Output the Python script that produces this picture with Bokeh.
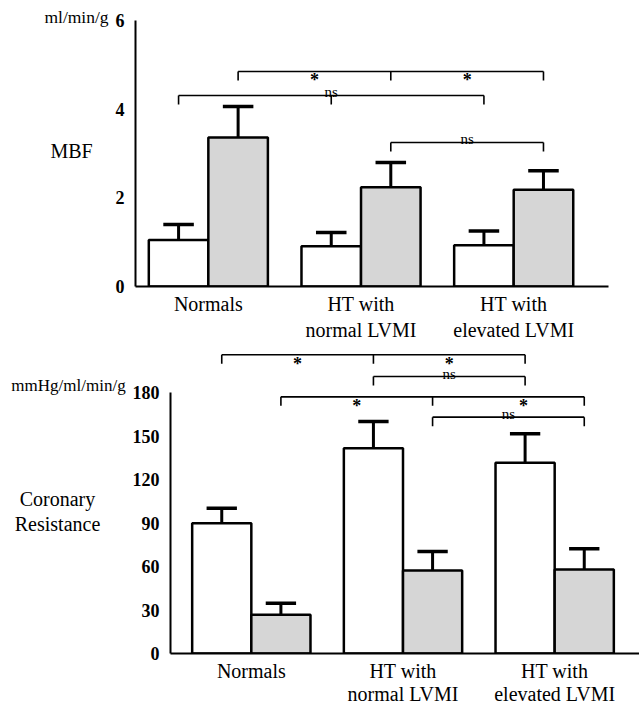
from bokeh.plotting import figure
from bokeh.models import Range1d, FixedTicker
from bokeh.layouts import column, row
from bokeh.embed import file_html
from bokeh.resources import INLINE
from bokeh.core.properties import value

# ---------------- data ----------------
groups = ["Normals", "HT with\nnormal LVMI", "HT with\nelevated LVMI"]

mbf_white = [1.05, 0.91, 0.93]
mbf_white_err = [0.35, 0.31, 0.32]
mbf_gray = [3.36, 2.24, 2.18]
mbf_gray_err = [0.70, 0.56, 0.43]
mbf_ticks = [0, 2, 4, 6]

cr_white = [89.9, 141.6, 131.5]
cr_white_err = [10.3, 18.4, 20.0]
cr_gray = [26.7, 57.2, 57.9]
cr_gray_err = [8.0, 13.1, 14.3]
cr_ticks = [0, 30, 60, 90, 120, 150, 180]

# significance brackets: series, groups joined, height, marks (fractional group pos, text)
mbf_brackets = [
    ("gray", [0, 1, 2], 4.85, [(0.5, "*"), (1.5, "*")]),
    ("white", [0, 1, 2], 4.31, [(1.0, "ns")]),
    ("gray", [1, 2], 3.25, [(1.5, "ns")]),
]
cr_brackets = [
    ("white", [0, 1, 2], 206.0, [(0.5, "*"), (1.5, "*")]),
    ("white", [1, 2], 191.0, [(1.5, "ns")]),
    ("gray", [0, 1, 2], 177.0, [(0.5, "*"), (1.6, "*")]),
    ("gray", [1, 2], 163.0, [(1.5, "ns")]),
]

# ---------------- style ----------------
FONT = "Liberation Serif"
OFF = 0.195
BW = 0.39
GRAY = "#d6d6d6"
W = 639


def side_text(width, height, frame_top, frame_bottom, y0_g, items):
    """Narrow figure holding the unit and quantity names left of the axis.
    Its frame matches the neighbouring panel's frame; y in page pixels."""
    f = figure(width=width, height=height, output_backend="svg", toolbar_location=None,
               x_range=Range1d(0, width),
               y_range=Range1d(y0_g + frame_bottom, y0_g + frame_top),
               x_axis_type=None, y_axis_type=None,
               min_border_left=0, min_border_right=0,
               min_border_top=frame_top, min_border_bottom=height - frame_bottom)
    f.outline_line_color = None
    f.grid.visible = False
    for txt, xc, yc, size in items:
        f.text(x=[xc], y=[yc], text=[txt], text_font=value(FONT), text_font_size=size,
               text_align="center", text_baseline="middle", text_color="black",
               text_line_height=1.15)
    return f


def make_panel(width, height, border_left, frame_left_g, frame_right_g, frame_top, frame_bottom,
               group0_px, group_step_px, px_per_unit, ymax_tick,
               ticks, white, white_err, gray, gray_err, brackets, tick_drop_px,
               label_standoff, label_line_height):
    x0 = (frame_left_g - group0_px) / group_step_px
    x1 = (frame_right_g - group0_px) / group_step_px
    ytop = (frame_bottom - frame_top) / px_per_unit

    p = figure(width=width, height=height, output_backend="svg", toolbar_location=None,
               x_range=Range1d(x0, x1), y_range=Range1d(0, ytop),
               min_border_left=border_left,
               min_border_right=width - border_left - (frame_right_g - frame_left_g),
               min_border_top=frame_top, min_border_bottom=height - frame_bottom)
    p.outline_line_color = None
    p.grid.visible = False

    xs = list(range(len(groups)))
    xw = [x - OFF for x in xs]
    xg = [x + OFF for x in xs]

    # bars
    p.vbar(x=xw, top=white, width=BW, bottom=0, fill_color="white",
           line_color="black", line_width=2.5)
    p.vbar(x=xg, top=gray, width=BW, bottom=0, fill_color=GRAY,
           line_color="black", line_width=2.5)

    # error bars (upper only)
    for xc, t, e in ((xw, white, white_err), (xg, gray, gray_err)):
        up = [a + b for a, b in zip(t, e)]
        p.segment(x0=xc, y0=t, x1=xc, y1=up, line_color="black", line_width=3)
        p.segment(x0=[x - 0.1 for x in xc], y0=up, x1=[x + 0.1 for x in xc], y1=up,
                  line_color="black", line_width=3.5)

    # brackets
    drop = tick_drop_px / px_per_unit
    for series, gidx, h, marks in brackets:
        off = -OFF if series == "white" else OFF
        pts = [g + off for g in gidx]
        p.segment(x0=[pts[0]], y0=[h], x1=[pts[-1]], y1=[h],
                  line_color="black", line_width=1.6)
        p.segment(x0=pts, y0=[h] * len(pts), x1=pts, y1=[h - drop] * len(pts),
                  line_color="black", line_width=1.6)
        for pos, txt in marks:
            mx = pos + off
            if txt == "*":
                p.text(x=[mx], y=[h], text=[txt], text_font=value(FONT),
                       text_font_size="18px", text_font_style="bold",
                       text_align="center", text_baseline="alphabetic",
                       y_offset=9, text_color="black")
            else:
                p.text(x=[mx], y=[h], text=[txt], text_font=value(FONT),
                       text_font_size="15px", text_align="center",
                       text_baseline="alphabetic", y_offset=-3, text_color="black")

    # axes
    p.xaxis.ticker = FixedTicker(ticks=xs)
    p.xaxis.major_label_overrides = {i: g for i, g in enumerate(groups)}
    p.xaxis.major_label_text_font = FONT
    p.xaxis.major_label_text_font_size = "20px"
    p.xaxis.major_label_text_color = "black"
    p.xaxis.major_label_text_line_height = label_line_height
    p.xaxis.major_tick_line_color = None
    p.xaxis.minor_tick_line_color = None
    p.xaxis.major_tick_out = 0
    p.xaxis.major_tick_in = 0
    p.xaxis.axis_label = None
    p.xaxis.axis_label_standoff = 0
    p.xaxis.major_label_standoff = label_standoff
    p.xaxis.axis_line_width = 2
    p.xaxis.axis_line_color = "black"

    p.yaxis.ticker = FixedTicker(ticks=ticks)
    p.yaxis.bounds = (0, ymax_tick)
    p.yaxis.major_label_text_font = FONT
    p.yaxis.major_label_text_font_size = "18px"
    p.yaxis.major_label_text_font_style = "bold"
    p.yaxis.major_label_text_color = "black"
    p.yaxis.major_tick_line_color = None
    p.yaxis.minor_tick_line_color = None
    p.yaxis.major_label_standoff = 5
    p.yaxis.axis_line_width = 2
    p.yaxis.axis_line_color = "black"
    return p


# top panel: side text 112 px wide, axis at x=134, frame to x=608
TOP_H = 345
TOP_SIDE = 112
top_side = side_text(TOP_SIDE, TOP_H, 8, 286, 0,
                     [("ml/min/g", 76, 16, "17.5px"), ("MBF", 71, 150, "20px")])
top = make_panel(W - TOP_SIDE, TOP_H, 134 - TOP_SIDE, 134, 608, 8, 286, 207, 153, 44.33, 6,
                 mbf_ticks, mbf_white, mbf_white_err, mbf_gray, mbf_gray_err,
                 mbf_brackets, 9, 6, 1.2)

# bottom panel: side text 129 px wide, axis at x=169, frame to x=639
BOT_H = 364
BOT_SIDE = 129
bot_side = side_text(BOT_SIDE, BOT_H, 1, 308, TOP_H,
                     [("mmHg/ml/min/g", 68, 385, "17px"),
                      ("Coronary\nResistance", 57, 511, "20px")])
bottom = make_panel(W - BOT_SIDE, BOT_H, 169 - BOT_SIDE, 169, 639, 1, 308, 250, 152, 1.45, 180,
                    cr_ticks, cr_white, cr_white_err, cr_gray, cr_gray_err,
                    cr_brackets, 9, 6, 1.05)

layout = column(row(top_side, top, spacing=0), row(bot_side, bottom, spacing=0), spacing=0)
open("out.html", "w").write(file_html(layout, INLINE))
